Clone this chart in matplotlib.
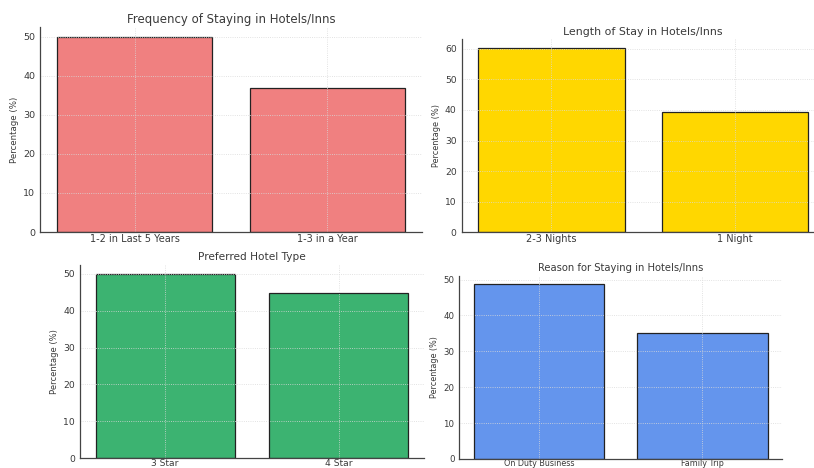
import matplotlib.pyplot as plt

# Survey results (percent of respondents)
freq_labels = ["1-2 in Last 5 Years", "1-3 in a Year"]
freq_values = [50.0, 36.8]

stay_labels = ["2-3 Nights", "1 Night"]
stay_values = [60.2, 39.3]

type_labels = ["3 Star", "4 Star"]
type_values = [50.0, 44.8]

reason_labels = ["On Duty Business", "Family Trip"]
reason_values = [48.7, 35.1]

W, H = 814, 468
fig = plt.figure(figsize=(W / 100, H / 100), dpi=100)
TEXT = "#3a3a3a"


def px_axes(left, top, right, bottom):
    # axes placed by pixel edges
    return fig.add_axes([left / W, (H - bottom) / H, (right - left) / W, (bottom - top) / H])


def bar_panel(ax, labels, values, color, title, title_fs, xtick_fs, ytick_fs, ylab_fs, xpad):
    ax.bar(labels, values, color=color, edgecolor="#222222", linewidth=0.9)
    ax.set_title(title, fontsize=title_fs, color=TEXT, pad=3)
    ax.set_ylabel("Percentage (%)", fontsize=ylab_fs, color=TEXT, labelpad=3)
    ax.grid(True, linestyle=":", color="#d9d9d9", linewidth=0.6)
    ax.tick_params(axis="both", length=0, colors=TEXT)
    ax.tick_params(axis="x", pad=xpad, labelsize=xtick_fs)
    ax.tick_params(axis="y", pad=3.5, labelsize=ytick_fs)
    for side in ["top", "right"]:
        ax.spines[side].set_visible(False)
    for side in ["left", "bottom"]:
        ax.spines[side].set_color("#444444")
        ax.spines[side].set_linewidth(0.9)


ax1 = px_axes(40, 27, 422, 232)
bar_panel(ax1, freq_labels, freq_values, "#F08080",
          "Frequency of Staying in Hotels/Inns", 8.5, 7.0, 6.8, 6.2, 1.5)

ax2 = px_axes(461.5, 39, 825, 232.3)
bar_panel(ax2, stay_labels, stay_values, "#FFD700",
          "Length of Stay in Hotels/Inns", 7.9, 7.0, 6.6, 5.9, 1.5)

ax3 = px_axes(80, 264.5, 424, 458.3)
bar_panel(ax3, type_labels, type_values, "#3CB371",
          "Preferred Hotel Type", 7.6, 6.6, 6.7, 6.0, 0.4)

ax4 = px_axes(459.3, 275.5, 782.3, 459)
bar_panel(ax4, reason_labels, reason_values, "#6495ED",
          "Reason for Staying in Hotels/Inns", 7.2, 5.8, 6.2, 5.8, 0.3)

fig.savefig("out.png", dpi=100)
